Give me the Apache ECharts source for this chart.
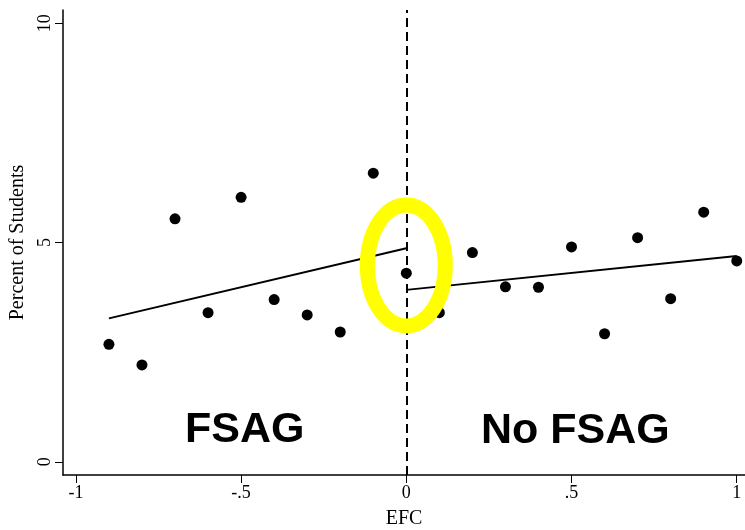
<!DOCTYPE html>
<html>
<head>
<meta charset="utf-8">
<script src="https://cdn.jsdelivr.net/npm/echarts@6/dist/echarts.min.js"></script>
<style>
  html, body { margin: 0; padding: 0; background: #fff; }
  #chart { width: 745px; height: 530px; }
</style>
</head>
<body>
<div id="chart"></div>
<script>
// binned EFC vs percent of students
var efc = [-0.9, -0.8, -0.7, -0.6, -0.5, -0.4, -0.3, -0.2, -0.1, 0,
           0.1, 0.2, 0.3, 0.4, 0.5, 0.6, 0.7, 0.8, 0.9, 1.0];
var pct = [2.68, 2.21, 5.54, 3.40, 6.03, 3.70, 3.35, 2.96, 6.58, 4.30,
           3.40, 4.77, 3.99, 3.98, 4.90, 2.92, 5.11, 3.72, 5.69, 4.58];

// fitted lines either side of the cutoff
var fitLeft = [[-0.9, 3.27], [0, 4.87]];
var fitRight = [[0, 3.92], [1, 4.69]];

// highlight ring at the cutoff
var ringCenter = [[0, 4.475]];

var xTickValues = [-1, -0.5, 0, 0.5, 1];
var xTickLabels = ['-1', '-.5', '0', '.5', '1'];
var yTickValues = [0, 5, 10];
var yTickLabels = ['0', '5', '10'];

var points = efc.map(function (x, i) { return [x, pct[i]]; });

var serif = '"Liberation Serif", "DejaVu Serif", serif';

var chart = echarts.init(document.getElementById('chart'));

chart.setOption({
  animation: false,
  backgroundColor: '#fff',
  grid: { left: 63, right: 0, top: 10, bottom: 55, containLabel: false, outerBoundsMode: 'none' },
  xAxis: {
    type: 'value',
    min: -1.039,
    max: 1.025,
    name: 'EFC',
    nameLocation: 'middle',
    nameGap: 34,
    nameTextStyle: { fontFamily: serif, fontSize: 20, color: '#000' },
    axisLine: { onZero: false, lineStyle: { color: '#000', width: 1.5 } },
    axisTick: { customValues: xTickValues, length: 8, lineStyle: { color: '#000' } },
    axisLabel: {
      customValues: xTickValues,
      margin: 9,
      fontFamily: serif,
      fontSize: 18,
      color: '#000',
      formatter: function (v) {
        var i = xTickValues.indexOf(v);
        return i >= 0 ? xTickLabels[i] : '';
      }
    },
    splitLine: { show: false }
  },
  yAxis: {
    type: 'value',
    min: -0.30,
    max: 10.30,
    name: 'Percent of Students',
    nameLocation: 'middle',
    nameGap: 34,
    nameTextStyle: { fontFamily: serif, fontSize: 20, color: '#000' },
    axisLine: { onZero: false, lineStyle: { color: '#000', width: 1.5 } },
    axisTick: { customValues: yTickValues, length: 8, lineStyle: { color: '#000' } },
    axisLabel: {
      customValues: yTickValues,
      rotate: 90,
      margin: 9,
      fontFamily: serif,
      fontSize: 18,
      color: '#000',
      formatter: function (v) {
        var i = yTickValues.indexOf(v);
        return i >= 0 ? yTickLabels[i] : '';
      }
    },
    splitLine: { show: false }
  },
  series: [
    {
      type: 'scatter',
      data: points,
      symbolSize: 11,
      itemStyle: { color: '#000', opacity: 1 },
      markLine: {
        silent: true,
        symbol: 'none',
        label: { show: false },
        lineStyle: { color: '#000', width: 2, type: [9, 5] },
        data: [{ xAxis: 0 }]
      }
    },
    {
      type: 'line',
      data: fitLeft,
      symbol: 'none',
      lineStyle: { color: '#000', width: 2 }
    },
    {
      type: 'line',
      data: fitRight,
      symbol: 'none',
      lineStyle: { color: '#000', width: 2 }
    },
    {
      type: 'custom',
      data: ringCenter,
      z: 10,
      renderItem: function (params, api) {
        var p = api.coord([api.value(0), api.value(1)]);
        return {
          type: 'ellipse',
          shape: { cx: p[0], cy: p[1], rx: 39, ry: 60.5 },
          style: { fill: 'none', stroke: '#ffff00', lineWidth: 15 }
        };
      }
    }
  ],
  graphic: [
    {
      type: 'text',
      left: 185,
      top: 409,
      style: {
        text: 'FSAG',
        font: 'bold 43px "Liberation Sans", Arial, sans-serif',
        fill: '#000'
      }
    },
    {
      type: 'text',
      left: 481,
      top: 410,
      style: {
        text: 'No FSAG',
        font: 'bold 43px "Liberation Sans", Arial, sans-serif',
        fill: '#000'
      }
    }
  ]
});
</script>
</body>
</html>
